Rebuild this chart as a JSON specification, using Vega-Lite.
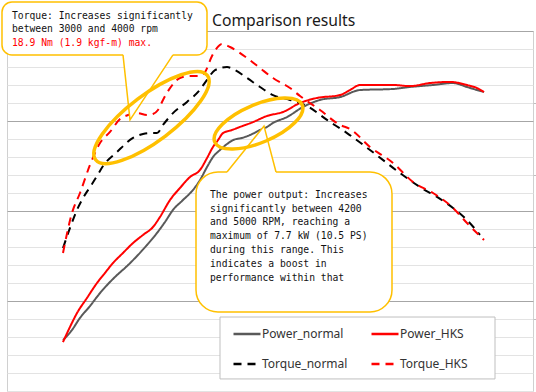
{
  "$schema": "https://vega.github.io/schema/vega-lite/v6.json",
  "width": 526,
  "height": 360,
  "autosize": "none",
  "padding": {"left": 7, "top": 31, "right": 3, "bottom": 1},
  "background": "white",
  "title": {"text": "Comparison results", "anchor": "start", "frame": "group", "dx": 205, "dy": 46, "offset": 6, "baseline": "alphabetic", "font": "Noto Sans", "fontSize": 15.7, "fontWeight": "normal", "color": "#1a1a1a"},
  "datasets": {
    "perf": [
      {"series":"Power_normal","rpm":2560,"val":2.83},{"series":"Power_normal","rpm":2650,"val":3.39},{"series":"Power_normal","rpm":2730,"val":4.06},{"series":"Power_normal","rpm":2830,"val":4.72},{"series":"Power_normal","rpm":2930,"val":5.44},{"series":"Power_normal","rpm":3010,"val":5.94},{"series":"Power_normal","rpm":3100,"val":6.44},{"series":"Power_normal","rpm":3200,"val":6.94},{"series":"Power_normal","rpm":3300,"val":7.5},{"series":"Power_normal","rpm":3400,"val":8.11},{"series":"Power_normal","rpm":3500,"val":8.78},{"series":"Power_normal","rpm":3580,"val":9.39},{"series":"Power_normal","rpm":3660,"val":10.06},{"series":"Power_normal","rpm":3760,"val":10.61},{"series":"Power_normal","rpm":3860,"val":11.17},{"series":"Power_normal","rpm":3930,"val":11.72},{"series":"Power_normal","rpm":4000,"val":12.44},{"series":"Power_normal","rpm":4060,"val":13.0},{"series":"Power_normal","rpm":4130,"val":13.39},{"series":"Power_normal","rpm":4200,"val":13.72},{"series":"Power_normal","rpm":4260,"val":13.94},{"series":"Power_normal","rpm":4350,"val":14.06},{"series":"Power_normal","rpm":4430,"val":14.22},{"series":"Power_normal","rpm":4530,"val":14.5},{"series":"Power_normal","rpm":4600,"val":14.67},{"series":"Power_normal","rpm":4660,"val":14.89},{"series":"Power_normal","rpm":4800,"val":15.22},{"series":"Power_normal","rpm":4960,"val":15.78},{"series":"Power_normal","rpm":5130,"val":16.17},{"series":"Power_normal","rpm":5330,"val":16.33},{"series":"Power_normal","rpm":5530,"val":16.72},{"series":"Power_normal","rpm":5860,"val":16.78},{"series":"Power_normal","rpm":6030,"val":16.89},{"series":"Power_normal","rpm":6260,"val":17.0},{"series":"Power_normal","rpm":6460,"val":17.11},{"series":"Power_normal","rpm":6600,"val":16.89},{"series":"Power_normal","rpm":6700,"val":16.72},{"series":"Power_normal","rpm":6770,"val":16.61},
      {"series":"Power_HKS","rpm":2560,"val":2.72},{"series":"Power_HKS","rpm":2630,"val":3.56},{"series":"Power_HKS","rpm":2700,"val":4.33},{"series":"Power_HKS","rpm":2800,"val":5.17},{"series":"Power_HKS","rpm":2900,"val":6.0},{"series":"Power_HKS","rpm":2980,"val":6.56},{"series":"Power_HKS","rpm":3060,"val":7.11},{"series":"Power_HKS","rpm":3160,"val":7.67},{"series":"Power_HKS","rpm":3260,"val":8.22},{"series":"Power_HKS","rpm":3360,"val":8.67},{"series":"Power_HKS","rpm":3460,"val":9.11},{"series":"Power_HKS","rpm":3530,"val":9.67},{"series":"Power_HKS","rpm":3630,"val":10.61},{"series":"Power_HKS","rpm":3730,"val":11.28},{"series":"Power_HKS","rpm":3830,"val":11.89},{"series":"Power_HKS","rpm":3930,"val":12.28},{"series":"Power_HKS","rpm":4000,"val":12.94},{"series":"Power_HKS","rpm":4060,"val":13.56},{"series":"Power_HKS","rpm":4110,"val":13.94},{"series":"Power_HKS","rpm":4160,"val":14.33},{"series":"Power_HKS","rpm":4250,"val":14.5},{"series":"Power_HKS","rpm":4330,"val":14.67},{"series":"Power_HKS","rpm":4460,"val":14.94},{"series":"Power_HKS","rpm":4600,"val":15.28},{"series":"Power_HKS","rpm":4760,"val":15.5},{"series":"Power_HKS","rpm":4930,"val":16.0},{"series":"Power_HKS","rpm":5100,"val":16.28},{"series":"Power_HKS","rpm":5330,"val":16.44},{"series":"Power_HKS","rpm":5430,"val":16.72},{"series":"Power_HKS","rpm":5530,"val":17.0},{"series":"Power_HKS","rpm":5860,"val":17.0},{"series":"Power_HKS","rpm":6030,"val":16.94},{"series":"Power_HKS","rpm":6230,"val":17.11},{"series":"Power_HKS","rpm":6430,"val":17.17},{"series":"Power_HKS","rpm":6600,"val":17.0},{"series":"Power_HKS","rpm":6700,"val":16.83},{"series":"Power_HKS","rpm":6770,"val":16.61},
      {"series":"Torque_normal","rpm":2560,"val":7.94},{"series":"Torque_normal","rpm":2630,"val":9.06},{"series":"Torque_normal","rpm":2700,"val":10.06},{"series":"Torque_normal","rpm":2760,"val":10.72},{"series":"Torque_normal","rpm":2830,"val":11.33},{"series":"Torque_normal","rpm":2900,"val":11.94},{"series":"Torque_normal","rpm":2960,"val":12.5},{"series":"Torque_normal","rpm":3100,"val":13.28},{"series":"Torque_normal","rpm":3260,"val":14.06},{"series":"Torque_normal","rpm":3360,"val":14.28},{"series":"Torque_normal","rpm":3430,"val":14.33},{"series":"Torque_normal","rpm":3500,"val":14.33},{"series":"Torque_normal","rpm":3560,"val":14.78},{"series":"Torque_normal","rpm":3660,"val":15.44},{"series":"Torque_normal","rpm":3800,"val":16.06},{"series":"Torque_normal","rpm":3920,"val":16.67},{"series":"Torque_normal","rpm":4000,"val":17.28},{"series":"Torque_normal","rpm":4080,"val":17.83},{"series":"Torque_normal","rpm":4200,"val":18.0},{"series":"Torque_normal","rpm":4280,"val":17.83},{"series":"Torque_normal","rpm":4400,"val":17.39},{"series":"Torque_normal","rpm":4530,"val":16.89},{"series":"Torque_normal","rpm":4660,"val":16.44},{"series":"Torque_normal","rpm":4830,"val":16.17},{"series":"Torque_normal","rpm":5000,"val":15.83},{"series":"Torque_normal","rpm":5200,"val":15.06},{"series":"Torque_normal","rpm":5400,"val":14.33},{"series":"Torque_normal","rpm":5630,"val":13.39},{"series":"Torque_normal","rpm":5930,"val":12.11},{"series":"Torque_normal","rpm":6130,"val":11.33},{"series":"Torque_normal","rpm":6300,"val":10.78},{"series":"Torque_normal","rpm":6460,"val":10.17},{"series":"Torque_normal","rpm":6600,"val":9.5},{"series":"Torque_normal","rpm":6730,"val":8.67},
      {"series":"Torque_HKS","rpm":2560,"val":7.67},{"series":"Torque_HKS","rpm":2650,"val":9.89},{"series":"Torque_HKS","rpm":2730,"val":11.0},{"series":"Torque_HKS","rpm":2830,"val":12.56},{"series":"Torque_HKS","rpm":2930,"val":13.78},{"series":"Torque_HKS","rpm":3030,"val":14.39},{"series":"Torque_HKS","rpm":3130,"val":15.11},{"series":"Torque_HKS","rpm":3210,"val":15.33},{"series":"Torque_HKS","rpm":3300,"val":15.44},{"series":"Torque_HKS","rpm":3400,"val":15.33},{"series":"Torque_HKS","rpm":3460,"val":15.39},{"series":"Torque_HKS","rpm":3510,"val":15.61},{"series":"Torque_HKS","rpm":3560,"val":16.17},{"series":"Torque_HKS","rpm":3630,"val":16.83},{"series":"Torque_HKS","rpm":3730,"val":17.39},{"series":"Torque_HKS","rpm":3830,"val":17.5},{"series":"Torque_HKS","rpm":3930,"val":17.5},{"series":"Torque_HKS","rpm":3980,"val":17.72},{"series":"Torque_HKS","rpm":4050,"val":18.61},{"series":"Torque_HKS","rpm":4100,"val":19.06},{"series":"Torque_HKS","rpm":4150,"val":19.28},{"series":"Torque_HKS","rpm":4230,"val":19.11},{"series":"Torque_HKS","rpm":4400,"val":18.5},{"series":"Torque_HKS","rpm":4530,"val":17.94},{"series":"Torque_HKS","rpm":4660,"val":17.39},{"series":"Torque_HKS","rpm":4830,"val":16.83},{"series":"Torque_HKS","rpm":4930,"val":16.39},{"series":"Torque_HKS","rpm":5130,"val":15.61},{"series":"Torque_HKS","rpm":5330,"val":14.78},{"series":"Torque_HKS","rpm":5430,"val":14.56},{"series":"Torque_HKS","rpm":5630,"val":13.56},{"series":"Torque_HKS","rpm":5860,"val":12.67},{"series":"Torque_HKS","rpm":6060,"val":11.61},{"series":"Torque_HKS","rpm":6260,"val":11.0},{"series":"Torque_HKS","rpm":6460,"val":10.17},{"series":"Torque_HKS","rpm":6600,"val":9.33},{"series":"Torque_HKS","rpm":6770,"val":8.39}
    ],
    "boxes": [
      {"box": 1, "left": 1950, "right": 4000, "top": 21.61, "bottom": 18.67},
      {"box": 2, "left": 3890, "right": 5850, "top": 12.17, "bottom": 4.39}
    ],
    "legendbox": [
      {"left": 4130, "right": 6880, "top": 4.11, "bottom": 0.67}
    ],
    "tails": [
      {"tail": 1, "rpm": 3160, "val": 18.67, "base": 18.8},
      {"tail": 1, "rpm": 3230, "val": 15.06, "base": 18.8},
      {"tail": 1, "rpm": 3660, "val": 18.67, "base": 18.8},
      {"tail": 2, "rpm": 4200, "val": 12.17, "base": 12.0},
      {"tail": 2, "rpm": 4570, "val": 14.72, "base": 12.0},
      {"tail": 2, "rpm": 4690, "val": 12.17, "base": 12.0}
    ],
    "ellipses": [
      {"id": "torque", "rpm": 3445, "val": 15.19},
      {"id": "power", "rpm": 4515, "val": 14.86}
    ],
    "notes": [
      {"emph": false, "rpm": 2050, "val": 20.67, "text": "Torque: Increases significantly"},
      {"emph": false, "rpm": 2050, "val": 19.93, "text": "between 3000 and 4000 rpm"},
      {"emph": true, "rpm": 2050, "val": 19.18, "text": "18.9 Nm (1.9 kgf-m) max."},
      {"emph": false, "rpm": 4030, "val": 10.74, "text": "The power output: Increases"},
      {"emph": false, "rpm": 4030, "val": 9.97, "text": "significantly between 4200"},
      {"emph": false, "rpm": 4030, "val": 9.2, "text": "and 5000 RPM, reaching a"},
      {"emph": false, "rpm": 4030, "val": 8.43, "text": "maximum of 7.7 kW (10.5 PS)"},
      {"emph": false, "rpm": 4030, "val": 7.66, "text": "during this range. This"},
      {"emph": false, "rpm": 4030, "val": 6.9, "text": "indicates a boost in"},
      {"emph": false, "rpm": 4030, "val": 6.13, "text": "performance within that"}
    ]
  },
  "layer": [
    {
      "data": {"name": "perf"},
      "mark": {"type": "line", "strokeWidth": 2, "interpolate": "monotone"},
      "encoding": {
        "x": {"field": "rpm", "type": "quantitative", "scale": {"domain": [2000, 7260], "nice": false, "zero": false}, "axis": null},
        "y": {"field": "val", "type": "quantitative", "scale": {"domain": [0, 20], "nice": false, "zero": false},
              "axis": {"orient": "left", "values": [0,1,2,3,4,5,6,7,8,9,10,11,12,13,14,15,16,17,18,19,20], "grid": true, "labels": false, "ticks": false, "domain": false, "title": null,
                       "gridColor": {"condition": {"test": "datum.value % 5 === 0 && datum.value > 0", "value": "#a6a6a6"}, "value": "#e3e3e3"}, "gridWidth": 1}},
        "color": {"field": "series", "type": "nominal",
                  "scale": {"domain": ["Power_normal", "Power_HKS", "Torque_normal", "Torque_HKS"], "range": ["#595959", "#ff0000", "#000000", "#ff0000"]},
                  "legend": {"title": null}},
        "strokeDash": {"field": "series", "type": "nominal",
                  "scale": {"domain": ["Power_normal", "Power_HKS", "Torque_normal", "Torque_HKS"], "range": [[1, 0], [1, 0], [8, 6], [8, 6]]},
                  "legend": {"title": null}}
      }
    },
    {
      "data": {"name": "legendbox"},
      "mark": {"type": "rect", "fill": "white", "stroke": "#bfbfbf", "strokeWidth": 1},
      "encoding": {
        "x": {"field": "left", "type": "quantitative", "axis": null},
        "x2": {"field": "right"},
        "y": {"field": "top", "type": "quantitative", "axis": null},
        "y2": {"field": "bottom"}
      }
    },
    {
      "data": {"name": "boxes"},
      "transform": [{"filter": "datum.box === 1"}],
      "mark": {"type": "rect", "fill": "white", "stroke": "#ffc000", "strokeWidth": 1.5, "cornerRadius": 10},
      "encoding": {
        "x": {"field": "left", "type": "quantitative", "axis": null},
        "x2": {"field": "right"},
        "y": {"field": "top", "type": "quantitative", "axis": null},
        "y2": {"field": "bottom"}
      }
    },
    {
      "data": {"name": "boxes"},
      "transform": [{"filter": "datum.box === 2"}],
      "mark": {"type": "rect", "fill": "white", "stroke": "#ffc000", "strokeWidth": 1.5, "cornerRadius": 22},
      "encoding": {
        "x": {"field": "left", "type": "quantitative", "axis": null},
        "x2": {"field": "right"},
        "y": {"field": "top", "type": "quantitative", "axis": null},
        "y2": {"field": "bottom"}
      }
    },
    {
      "data": {"name": "tails"},
      "mark": {"type": "area", "fill": "white", "opacity": 1},
      "encoding": {
        "x": {"field": "rpm", "type": "quantitative", "axis": null},
        "y": {"field": "val", "type": "quantitative", "axis": null},
        "y2": {"field": "base"},
        "detail": {"field": "tail"}
      }
    },
    {
      "data": {"name": "tails"},
      "mark": {"type": "line", "stroke": "#ffc000", "strokeWidth": 1.5},
      "encoding": {
        "x": {"field": "rpm", "type": "quantitative", "axis": null},
        "y": {"field": "val", "type": "quantitative", "axis": null},
        "detail": {"field": "tail"}
      }
    },
    {
      "data": {"name": "ellipses"},
      "transform": [{"filter": "datum.id === 'torque'"}],
      "mark": {"type": "point", "filled": false, "stroke": "#ffc000", "strokeWidth": 3.5, "opacity": 1, "size": 19600, "angle": 323,
               "shape": "M 1 0 C 1 0.182 0.552 0.33 0 0.33 C -0.552 0.33 -1 0.182 -1 0 C -1 -0.182 -0.552 -0.33 0 -0.33 C 0.552 -0.33 1 -0.182 1 0 Z"},
      "encoding": {
        "x": {"field": "rpm", "type": "quantitative", "axis": null},
        "y": {"field": "val", "type": "quantitative",
              "axis": {"orient": "right", "values": [4, 8, 12, 16], "grid": false, "labels": false, "domain": false, "ticks": true, "tickSize": 3, "tickColor": "#bfbfbf", "title": null}}
      }
    },
    {
      "data": {"name": "ellipses"},
      "transform": [{"filter": "datum.id === 'power'"}],
      "mark": {"type": "point", "filled": false, "stroke": "#ffc000", "strokeWidth": 3.5, "opacity": 1, "size": 9025, "angle": 337,
               "shape": "M 1 0 C 1 0.221 0.552 0.4 0 0.4 C -0.552 0.4 -1 0.221 -1 0 C -1 -0.221 -0.552 -0.4 0 -0.4 C 0.552 -0.4 1 -0.221 1 0 Z"},
      "encoding": {
        "x": {"field": "rpm", "type": "quantitative", "axis": null},
        "y": {"field": "val", "type": "quantitative", "axis": null}
      }
    },
    {
      "data": {"name": "notes"},
      "transform": [{"filter": "!datum.emph"}],
      "mark": {"type": "text", "align": "left", "baseline": "alphabetic", "font": "DejaVu Sans Mono", "fontSize": 9.7, "color": "#111111"},
      "encoding": {
        "x": {"field": "rpm", "type": "quantitative", "axis": null},
        "y": {"field": "val", "type": "quantitative", "axis": null},
        "text": {"field": "text"}
      }
    },
    {
      "data": {"name": "notes"},
      "transform": [{"filter": "datum.emph"}],
      "mark": {"type": "text", "align": "left", "baseline": "alphabetic", "font": "DejaVu Sans Mono", "fontSize": 9.7, "color": "#ff0000"},
      "encoding": {
        "x": {"field": "rpm", "type": "quantitative", "axis": null},
        "y": {"field": "val", "type": "quantitative", "axis": null},
        "text": {"field": "text"}
      }
    }
  ],
  "resolve": {"axis": {"y": "independent"}},
  "config": {
    "view": {"stroke": "#d0d0d0"},
    "legend": {
      "orient": "none", "legendX": 225, "legendY": 288, "columns": 2, "direction": "horizontal",
      "symbolType": "stroke", "symbolSize": 729, "symbolStrokeWidth": 2.5,
      "labelFont": "Noto Sans", "labelFontSize": 12, "labelColor": "#333333", "labelOffset": 0,
      "padding": 0, "rowPadding": 9, "columnPadding": 18
    }
  }
}
